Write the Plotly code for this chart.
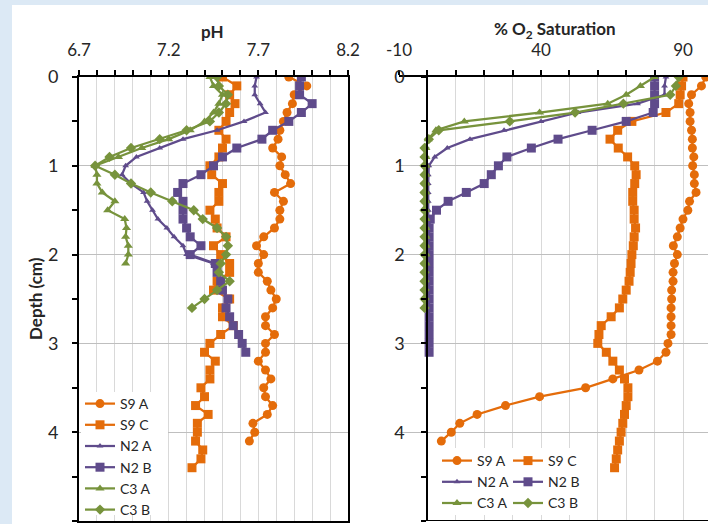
import plotly.graph_objects as go

# ---------------- data ----------------
DEPTH = [0.0, 0.1, 0.2, 0.3, 0.4, 0.5, 0.6, 0.7, 0.8, 0.9,
         1.0, 1.1, 1.2, 1.3, 1.4, 1.5, 1.6, 1.7, 1.8, 1.9,
         2.0, 2.1, 2.2, 2.3, 2.4, 2.5, 2.6, 2.7, 2.8, 2.9,
         3.0, 3.1, 3.2, 3.3, 3.4, 3.5, 3.6, 3.7, 3.8, 3.9,
         4.0, 4.1, 4.2, 4.3, 4.4]

SERIES = ["S9 A", "S9 C", "N2 A", "N2 B", "C3 A", "C3 B"]

PH_S9A = [7.87, 7.97, 7.90, 7.89, 7.86, 7.84, 7.82, 7.81, 7.78, 7.83,
          7.82, 7.85, 7.88, 7.79, 7.84, 7.82, 7.82, 7.79, 7.73, 7.69,
          7.73, 7.70, 7.70, 7.75, 7.77, 7.80, 7.78, 7.74, 7.74, 7.79,
          7.74, 7.74, 7.70, 7.74, 7.77, 7.73, 7.74, 7.78, 7.75, 7.67,
          7.68, 7.65]
PH_S9C = [7.50, 7.58, 7.54, 7.57, 7.54, 7.52, 7.48, 7.52, 7.50, 7.48,
          7.43, 7.44, 7.50, 7.48, 7.48, 7.43, 7.46, 7.47, 7.52, 7.45,
          7.49, 7.54, 7.54, 7.47, 7.45, 7.54, 7.50, 7.50, 7.56, 7.49,
          7.43, 7.40, 7.46, 7.43, 7.43, 7.38, 7.40, 7.35, 7.42, 7.36,
          7.36, 7.35, 7.39, 7.38, 7.33]
PH_N2A = [7.69, 7.68, 7.68, 7.71, 7.74, 7.62, 7.47, 7.28, 7.15, 7.02,
          6.96, 6.94, 6.99, 7.06, 7.08, 7.11, 7.14, 7.19, 7.23, 7.28,
          7.30, 7.45, 7.48]
PH_N2B = [7.94, 7.93, 7.93, 8.00, 7.94, 7.87, 7.78, 7.72, 7.58, 7.50,
          7.45, 7.38, 7.28, 7.25, 7.28, 7.28, 7.28, 7.30, 7.32, 7.38,
          7.32, 7.46, 7.47, 7.49, 7.50, 7.53, 7.52, 7.54, 7.56, 7.59,
          7.61, 7.63]
PH_C3A = [7.43, 7.45, 7.50, 7.48, 7.45, 7.40, 7.32, 7.20, 7.05, 6.92,
          6.79, 6.80, 6.80, 6.83, 6.90, 6.86, 6.955, 6.965, 6.96, 6.975,
          6.975, 6.96]
PH_C3B = [7.47, 7.48, 7.53, 7.52, 7.48, 7.43, 7.30, 7.15, 6.99, 6.87,
          6.79, 6.90, 6.99, 7.10, 7.22, 7.34, 7.39, 7.47, 7.52, 7.53,
          7.52, 7.49, 7.48, 7.54, 7.47, 7.40, 7.33]

O2_S9A = [98.0, 96.5, 93.0, 92.0, 92.5, 92.5, 93.0, 93.3, 93.3, 93.8,
          93.4, 94.0, 94.0, 94.6, 92.3, 91.7, 90.0, 89.0, 88.0, 86.6,
          88.0, 87.0, 86.5, 86.5, 86.0, 86.0, 85.8, 85.8, 85.8, 85.8,
          84.7, 84.0, 81.0, 74.5, 65.3, 55.7, 39.5, 27.5, 17.5, 11.4,
          8.4, 4.9]
O2_S9C = [90.0, 89.5, 89.0, 88.5, 84.0, 72.0, 67.0, 64.3, 67.2, 70.5,
          73.0, 73.5, 73.0, 72.3, 72.3, 72.8, 72.8, 73.3, 72.8, 72.5,
          72.0, 71.7, 71.4, 71.0, 70.0, 68.8, 67.6, 64.7, 61.2, 60.4,
          60.0, 63.0, 65.3, 67.6, 69.4, 70.6, 70.6, 70.0, 69.4, 68.8,
          68.2, 67.6, 67.0, 66.5, 65.9]
O2_N2A = [84.0, 83.5, 83.5, 74.0, 53.0, 40.0, 27.0, 15.0, 7.0, 2.6,
          0.5, 0.3, 0.3, 0.3, 0.3, 0.3, 0.3, 0.3, 0.3, 0.3,
          0.3, 0.3, 0.3]
O2_N2B = [80.0, 80.0, 80.0, 80.0, 79.5, 70.0, 58.0, 46.0, 36.6, 28.0,
          25.0, 22.5, 20.0, 13.7, 7.3, 3.2, 1.0, 0.6, 0.6, 0.6,
          0.6, 0.6, 0.6, 0.6, 0.6, 0.6, 0.6, 0.6, 0.6, 0.6,
          0.6, 0.6]
O2_C3A = [80.0, 75.0, 70.0, 63.5, 39.5, 13.0, 3.0, 0.3, -0.5, -0.5,
          -0.5, -0.5, -0.5, -0.5, -0.5, -0.5, -0.5, -0.5, -0.5, -0.5,
          -0.5, -0.5]
O2_C3B = [88.5, 87.5, 85.5, 69.0, 52.0, 29.0, 4.0, 0.5, -1.0, -1.0,
          -1.0, -1.0, -1.0, -1.0, -1.0, -1.0, -1.0, -1.0, -1.0, -1.0,
          -1.0, -1.0, -1.0, -1.0, -1.0, -1.0, -1.0]

PH_TICKS = [6.7, 7.2, 7.7, 8.2]
PH_TICKTEXT = ["6.7", "7.2", "7.7", "8.2"]
O2_TICKS = [-10, 40, 90]
O2_TICKTEXT = ["-10", "40", "90"]
DEPTH_TICKS = [0, 1, 2, 3, 4, 5]

# ---------------- styles ----------------
ORANGE = "#E46C0A"
PURPLE = "#5F4B8B"
GREEN = "#77933C"
STYLE = {
    "S9 A": dict(color=ORANGE, symbol="circle", size=9),
    "S9 C": dict(color=ORANGE, symbol="square", size=9),
    "N2 A": dict(color=PURPLE, symbol="triangle-up", size=6),
    "N2 B": dict(color=PURPLE, symbol="square", size=9),
    "C3 A": dict(color=GREEN, symbol="triangle-up", size=8),
    "C3 B": dict(color=GREEN, symbol="diamond", size=8),
}
FONT = "Lato, 'Open Sans', sans-serif"
TXT = "#262626"
W, H = 708, 524


def fx(p):
    return p / W


def fy(p):
    return 1 - p / H


PH_DATA = dict(zip(SERIES, [PH_S9A, PH_S9C, PH_N2A, PH_N2B, PH_C3A, PH_C3B]))
O2_DATA = dict(zip(SERIES, [O2_S9A, O2_S9C, O2_N2A, O2_N2B, O2_C3A, O2_C3B]))
O2_LEGEND = {"S9 A": "legend2", "N2 A": "legend2", "C3 A": "legend2",
             "S9 C": "legend3", "N2 B": "legend3", "C3 B": "legend3"}

fig = go.Figure()

for name in SERIES:
    st = STYLE[name]
    vals = PH_DATA[name]
    fig.add_trace(go.Scatter(
        x=vals, y=DEPTH[:len(vals)], name=name, mode="lines+markers",
        xaxis="x", yaxis="y", legend="legend",
        line=dict(color=st["color"], width=2.25),
        marker=dict(color=st["color"], symbol=st["symbol"], size=st["size"]),
    ))

for name in SERIES:
    st = STYLE[name]
    vals = O2_DATA[name]
    fig.add_trace(go.Scatter(
        x=vals, y=DEPTH[:len(vals)], name=name, mode="lines+markers",
        xaxis="x2", yaxis="y2", legend=O2_LEGEND[name],
        line=dict(color=st["color"], width=2.25),
        marker=dict(color=st["color"], symbol=st["symbol"], size=st["size"]),
    ))

O2_MAX = -10 + (W - 399) / 2.84
Y_DOM = [fy(521), fy(77)]

common_x = dict(side="top", ticks="outside", ticklen=5, tickwidth=1.5, tickcolor="black",
                showline=True, linecolor="black", linewidth=2, zeroline=False,
                showgrid=True, gridcolor="#D9D9D9", gridwidth=1,
                tickfont=dict(family=FONT, size=17, color=TXT),
                ticklabelstandoff=7)
common_y = dict(range=[5, 0], tickmode="array", tickvals=DEPTH_TICKS,
                ticks="outside", ticklen=5, tickwidth=1.5, tickcolor="black",
                showline=True, linecolor="black", linewidth=2, zeroline=False,
                showgrid=True, gridcolor="#BFBFBF", gridwidth=1,
                minor=dict(dtick=0.5, ticks="outside", ticklen=5, tickwidth=1.5,
                           tickcolor="black", showgrid=False),
                tickfont=dict(family=FONT, size=18, color=TXT),
                domain=Y_DOM)

LEG_FONT = dict(family=FONT, size=14, color=TXT)

fig.update_layout(
    width=W, height=H,
    margin=dict(l=0, r=0, t=0, b=0, autoexpand=False),
    paper_bgcolor="white", plot_bgcolor="rgba(0,0,0,0)",
    font=dict(family=FONT, color=TXT),
    xaxis=dict(domain=[fx(79), fx(348)], range=[6.7, 8.2], anchor="y",
               tickmode="array", tickvals=PH_TICKS, ticktext=PH_TICKTEXT, mirror=True,
               minor=dict(dtick=0.1, tick0=6.7, ticks="outside", ticklen=5, tickwidth=1.5,
                          tickcolor="black", showgrid=True, gridcolor="#D9D9D9"),
               **common_x),
    yaxis=dict(anchor="x", mirror=True, ticklabelstandoff=10, **common_y),
    xaxis2=dict(domain=[fx(399), 1.0], range=[-10, O2_MAX], anchor="y2",
                tickmode="array", tickvals=O2_TICKS, ticktext=O2_TICKTEXT, mirror=False,
                minor=dict(dtick=10, tick0=-10, ticks="outside", ticklen=5, tickwidth=1.5,
                           tickcolor="black", showgrid=True, gridcolor="#D9D9D9"),
                **common_x),
    yaxis2=dict(anchor="free", position=fx(427.4), mirror=False,
                ticklabelstandoff=13, **common_y),
    showlegend=True,
    legend=dict(x=fx(80), y=fy(388), xanchor="left", yanchor="top",
                bgcolor="rgba(0,0,0,0)", font=LEG_FONT, tracegroupgap=0),
    legend2=dict(x=fx(437), y=fy(445), xanchor="left", yanchor="top",
                 bgcolor="rgba(0,0,0,0)", font=LEG_FONT),
    legend3=dict(x=fx(508), y=fy(445), xanchor="left", yanchor="top",
                 bgcolor="rgba(0,0,0,0)", font=LEG_FONT),
    shapes=[
        dict(type="rect", xref="paper", yref="paper", x0=0, x1=fx(12), y0=0, y1=1,
             fillcolor="#DCE9F5", line=dict(width=0), layer="below"),
        dict(type="rect", xref="paper", yref="paper", x0=0, x1=1, y0=fy(5), y1=1,
             fillcolor="#DCE9F5", line=dict(width=0), layer="below"),
        # white legend boxes hiding the gridlines, as in the reference
        dict(type="rect", xref="paper", yref="paper", x0=fx(81), x1=fx(168),
             y0=fy(515), y1=fy(392), fillcolor="white", line=dict(width=0), layer="above"),
        dict(type="rect", xref="paper", yref="paper", x0=fx(440), x1=fx(585),
             y0=fy(515), y1=fy(448), fillcolor="white", line=dict(width=0), layer="above"),
        dict(type="line", xref="x2", yref="y2", x0=0, x1=O2_MAX, y0=5, y1=5,
             line=dict(color="black", width=2)),
    ],
    annotations=[
        dict(text="<b>pH</b>", xref="paper", yref="paper", x=fx(213), y=fy(32),
             xanchor="center", yanchor="middle", showarrow=False,
             font=dict(family=FONT, size=17, color=TXT)),
        dict(text="<b>% O<sub>2</sub> Saturation</b>", xref="paper", yref="paper",
             x=fx(555), y=fy(30), xanchor="center", yanchor="middle", showarrow=False,
             font=dict(family=FONT, size=17, color=TXT)),
        dict(text="<b>Depth (cm)</b>", xref="paper", yref="paper", x=fx(35), y=fy(299),
             xanchor="center", yanchor="middle", textangle=-90, showarrow=False,
             font=dict(family=FONT, size=17, color=TXT)),
    ],
)

fig.write_html("out.html", config={"displayModeBar": False},
               post_script="document.body.style.margin='0px';")
